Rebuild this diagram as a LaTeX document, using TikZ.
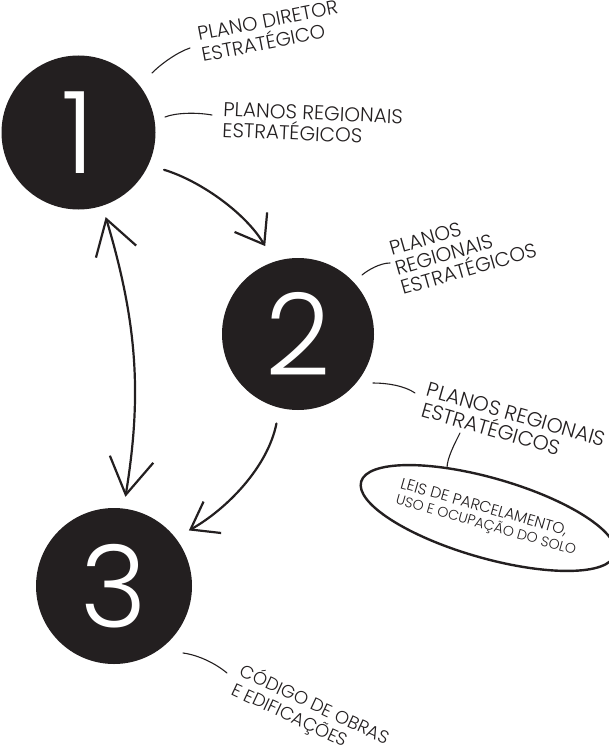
\documentclass[tikz,border=0pt]{standalone}
\usepackage{fontspec}
\setmainfont{Poppins Light}
\usetikzlibrary{arrows.meta,shapes.geometric}
\definecolor{ink}{HTML}{231F20}
\begin{document}
\begin{tikzpicture}[x=1pt,y=-1pt,
  disc/.style={circle,fill=ink,text=white,inner sep=0pt,minimum size=#1,font=\fontsize{114}{114}\selectfont},
  lab/.style={text=ink,inner sep=0pt,anchor=base west,align=left,font=\fontsize{20}{21}\selectfont},
  lead/.style={draw=ink,line width=1.1pt,line cap=round},
  arr/.style={draw=ink,line width=2.2pt,line cap=round,line join=round},
]
\useasboundingbox (0,0) rectangle (608,754);

% discs
\node[disc=154pt] (c1) at (78.5,132.5) {1};
\node[disc=152pt] (c2) at (298,334) {2};
\node[disc=156pt] (c3) at (114,586) {3};

% labels (placed at the baseline of their last line)
\node[lab,rotate=11,font=\fontsize{19.5}{21.5}\selectfont] (t1) at (203,62) {PLANO DIRETOR\\ESTRATÉGICO};
\node[lab,rotate=-2.5] (t2) at (222,137) {PLANOS REGIONAIS\\ESTRATÉGICOS};
\node[lab,rotate=16,font=\fontsize{20}{20.5}\selectfont] (t3) at (403,295) {PLANOS\\REGIONAIS\\ESTRATÉGICOS};
\node[lab,rotate=-16,font=\fontsize{20.5}{21}\selectfont] (t4) at (420,416) {PLANOS REGIONAIS\\ESTRATÉGICOS};
\node[lab,rotate=-25,font=\fontsize{18}{20}\selectfont] (t5) at (230,694) {CÓDIGO DE OBRAS\\E EDIFICAÇÕES};

% ellipse
\node[ellipse,draw=ink,line width=2.4pt,rotate=-16,minimum width=246pt,minimum height=80pt,
      inner sep=0pt,align=left,text=ink,font=\fontsize{14}{16}\selectfont] (ell) at (488,518)
      {{\fontsize{15.5}{16}\selectfont LEIS DE PARCELAMENTO,}\\USO E OCUPAÇÃO DO SOLO};

% leader lines
\coordinate (p1a) at (152,73);  \coordinate (p1b) at (190,48);
\coordinate (p2a) at (165,117); \coordinate (p2b) at (212,115);
\coordinate (p3a) at (362,275); \coordinate (p3b) at (390,263);
\coordinate (p4a) at (373,383); \coordinate (p4b) at (415,393);
\coordinate (p5a) at (460,433); \coordinate (p5b) at (447,468);
\coordinate (p6a) at (183,653); \coordinate (p6b) at (227,673);
\draw[lead] (p1a) .. controls +(10,-10) and +(-12,4) .. (p1b);
\draw[lead] (p2a) .. controls +(10,-4) and +(-17,-3) .. (p2b);
\draw[lead] (p3a) .. controls +(6,-5) and +(-10,0) .. (p3b);
\draw[lead] (p4a) .. controls +(15,0) and +(-10,-7) .. (p4b);
\draw[lead] (p5a) .. controls +(-5,10) and +(0,-10) .. (p5b);
\draw[lead] (p6a) .. controls +(15,2) and +(-12,-10) .. (p6b);

% arrows
\draw[arr,-{Straight Barb[length=26pt,width=38pt]},shorten <=16.3pt,shorten >=18pt]
  (c1.-25) .. controls +(50,15) and +(-30,-50) .. (c2.108);
\draw[arr,{Straight Barb[length=34pt,width=42pt]}-{Straight Barb[length=36pt,width=44pt]},shorten <=11.6pt,shorten >=11.7pt]
  (c1.-72.6) .. controls +(36,120) and +(18,-110) .. (c3.83);
\draw[arr,-{Straight Barb[length=25pt,width=36pt]},shorten <=15.9pt,shorten >=15.2pt]
  (c2.-104.5) .. controls +(-12,60) and +(50,-28) .. (c3.38.5);
\end{tikzpicture}
\end{document}
